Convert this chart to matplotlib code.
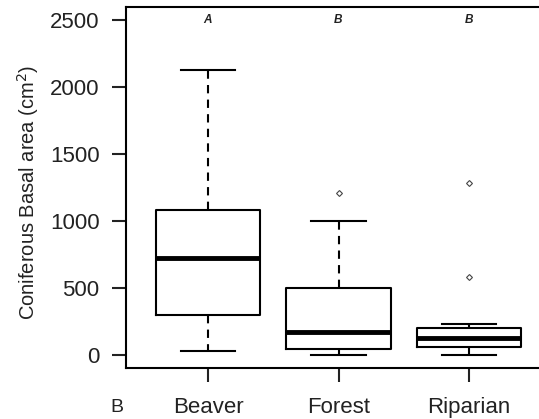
import matplotlib
matplotlib.use("Agg")
import matplotlib.pyplot as plt

plt.rcParams['font.family'] = ['Liberation Sans', 'DejaVu Sans']

categories = ["Beaver", "Forest", "Riparian"]
whisker_low = [30, 0, 0]
q1 = [299, 43, 55]
medians = [724, 170, 125]
q3 = [1078, 499, 197]
whisker_high = [2131, 996, 230]
outliers = [[], [1208], [1282, 584]]
group_letters = ["A", "B", "B"]
letter_y = 2500
yticks = [0, 500, 1000, 1500, 2000, 2500]

fig = plt.figure(figsize=(5.39, 4.19), dpi=100)
ax = fig.add_axes([126/539, 51/419, (551-126)/539, (368-7)/419])

stats = []
for i, c in enumerate(categories):
    stats.append(dict(label=c, whislo=whisker_low[i], q1=q1[i], med=medians[i],
                      q3=q3[i], whishi=whisker_high[i], fliers=outliers[i]))

positions = list(range(1, len(categories) + 1))
ax.bxp(stats, positions=positions, widths=0.8, showfliers=True,
       boxprops=dict(color='black', linewidth=1.5),
       medianprops=dict(color='black', linewidth=3.5, solid_capstyle='butt'),
       whiskerprops=dict(color='black', linewidth=1.5, linestyle=(0, (4, 3))),
       capprops=dict(color='black', linewidth=1.5),
       capwidths=0.42,
       flierprops=dict(marker='D', markersize=3, markerfacecolor='none',
                       markeredgecolor='#444444', markeredgewidth=0.8))

for p, l in zip(positions, group_letters):
    ax.text(p, letter_y, l, ha='center', va='center', fontsize=8.5,
            style='italic', fontweight='bold', color='#222222')

ax.set_xlim(0.372, 3.628)
ax.set_ylim(-100, 2600)
ax.set_yticks(yticks)
ax.set_yticklabels([str(v) for v in yticks])
ax.set_xticks(positions)
ax.set_xticklabels(categories)

ax.spines['right'].set_visible(False)
for s in ['left', 'bottom', 'top']:
    ax.spines[s].set_linewidth(1.5)
ax.tick_params(axis='both', length=10, width=1.5, labelsize=16, colors='#222222')
ax.tick_params(axis='y', pad=9)
ax.tick_params(axis='x', pad=11)

ax.set_ylabel("Coniferous Basal area (cm$^2$)", fontsize=14.5, color='#222222')
ax.yaxis.set_label_coords(-0.2, 0.4875)

fig.text(117/539, 1 - 407/419, "B", ha='center', va='center', fontsize=14, color='#222222')

fig.savefig("out.png", dpi=100)
